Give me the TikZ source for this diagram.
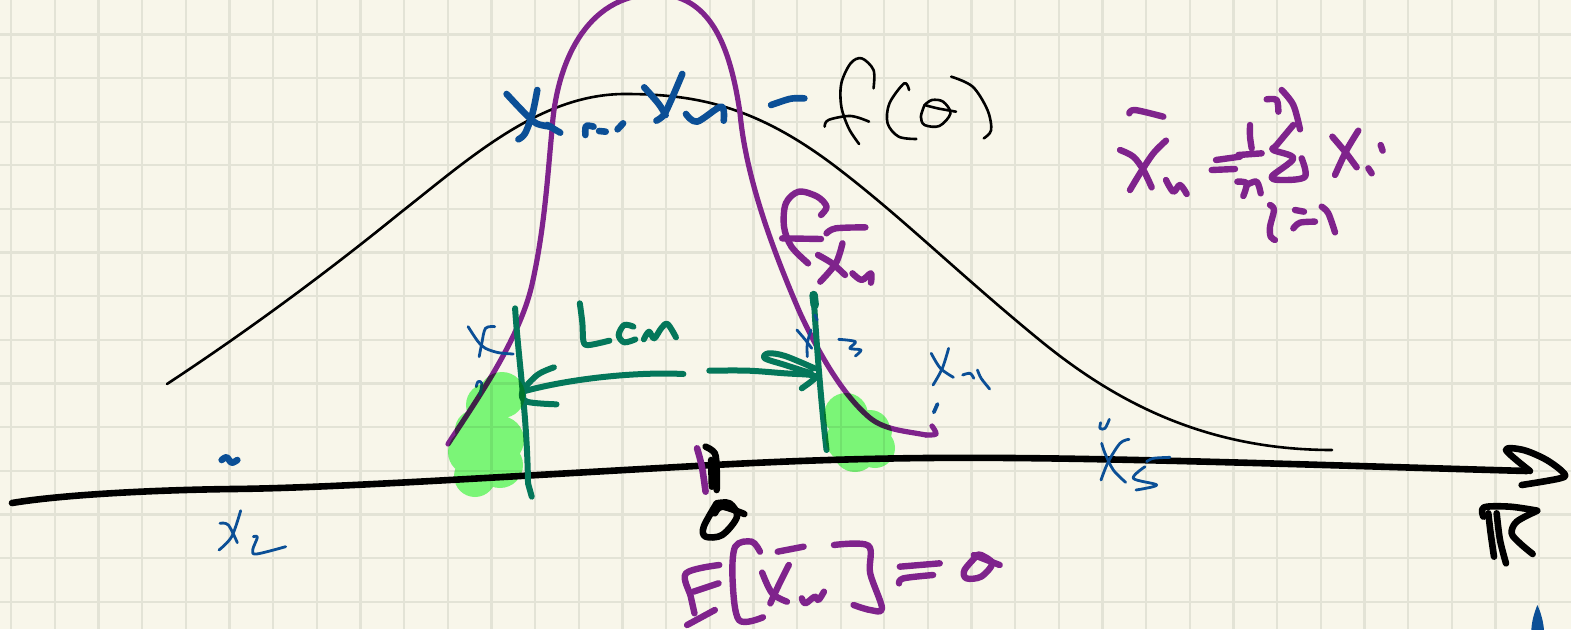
\documentclass[tikz,border=0pt]{standalone}
\definecolor{paper}{HTML}{F8F6EA}
\definecolor{gridc}{HTML}{E3E3D6}
\definecolor{pur}{HTML}{7F238C}
\definecolor{blu}{HTML}{0B4F96}
\definecolor{grn}{HTML}{04775A}
\definecolor{hil}{HTML}{7FFE82}
\tikzset{
  pen/.style={line cap=round,line join=round},
  bigpur/.style={pen,draw=pur,line width=6.4pt},
  bell/.style={pen,draw=pur,line width=5.2pt},
  thickblu/.style={pen,draw=blu,line width=6.6pt},
  thinblu/.style={pen,draw=blu,line width=2.8pt},
  grnpen/.style={pen,draw=grn,line width=6pt},
  blkthin/.style={pen,draw=black,line width=2.6pt},
  blkthick/.style={pen,draw=black,line width=6.6pt},
  zoomA/.style={x=0.3699pt,y=-0.33333pt},
  zoomB/.style={x=0.33333pt,y=-0.33333pt},
}
\newcommand{\Pen}[2]{\draw[#1] plot[smooth,tension=0.55] coordinates {#2};}
\begin{document}
\begin{tikzpicture}[x=1pt,y=-1pt]
\useasboundingbox (0,0) rectangle (1571,629);
\fill[paper] (0,0) rectangle (1571,629);
\clip (0,0) rectangle (1571,629);
\foreach \i in {0,...,35}{
  \draw[gridc,line width=2.3pt] ({11.3+43.65*\i},0) -- ({11.3+43.65*\i},629);
}
\foreach \i in {0,...,14}{
  \draw[gridc,line width=2.3pt] (0,{-9.3+43.65*\i}) -- (1571,{-9.3+43.65*\i});
}
% bell curve f(theta)
\draw[blkthin] (167,384) .. controls (240,336) and (320,278) .. (400,213)
  .. controls (470,158) and (540,94) .. (625,94)
  .. controls (700,94) and (760,108) .. (840,170)
  .. controls (905,220) and (960,275) .. (1042,342)
  .. controls (1110,397) and (1200,450) .. (1332,450);
% narrow density
\draw[bell] (448,444) .. controls (480,395) and (522,335) .. (533,280)
  .. controls (545,225) and (548,170) .. (552,130)
  .. controls (556,65) and (585,-5) .. (655,-6)
  .. controls (710,-6) and (730,45) .. (740,113)
  .. controls (746,180) and (775,255) .. (800,313)
  .. controls (822,360) and (845,397) .. (870,418)
  .. controls (885,430) and (905,431) .. (926,435);
\Pen{bell}{(926,435)(936,434)(932,426)}
% axis
\draw[blkthick] (12,503) .. controls (60,495) and (150,490) .. (233,489)
  .. controls (330,488) and (480,478) .. (696,466)
  .. controls (800,460) and (900,457) .. (1010,458)
  .. controls (1150,459) and (1350,466) .. (1527,471);
\begin{scope}[shift={(1080,400)},zoomB]
\Pen{blkthick}{(1325,255)(1440,235)(1452,220)(1400,180)(1330,150)(1278,150)(1350,213)}
\Pen{blkthick}{(1210,350)(1212,322)(1290,320)(1372,332)}
\Pen{blkthick}{(1225,340)(1232,400)(1242,470)}
\Pen{blkthick}{(1250,340)(1260,420)(1278,490)}
\Pen{blkthick}{(1370,333)(1310,365)(1295,400)(1320,430)(1358,462)}
\Pen{thinblu}{(62,68)(60,85)(75,85)(88,58)}
\Pen{thinblu}{(65,130)(75,160)(100,210)(137,247)}
\Pen{thinblu}{(147,118)(120,130)(85,185)(63,240)}
\Pen{thinblu}{(270,172)(220,175)(200,185)}
\Pen{thinblu}{(195,200)(160,235)(230,255)(168,270)}
\fill[blu] (1372,615) .. controls (1362,640) and (1355,665) .. (1354,690) -- (1392,690) .. controls (1390,665) and (1382,635) .. (1372,615) -- cycle;
\end{scope}
% lower centre
\begin{scope}[shift={(430,280)},zoomA]
\draw[grnpen] (230,85) .. controls (240,250) and (262,400) .. (265,610) -- (275,650);
\draw[grnpen] (1037,45) .. controls (1045,200) and (1060,400) .. (1072,510);
\Pen{grnpen,line width=8.5pt}{(1037,45)(1040,75)}
\draw[grnpen] (685,282) .. controls (560,275) and (380,295) .. (250,335);
\Pen{grnpen}{(335,262)(290,285)(250,335)(262,365)(342,373)}
\Pen{grnpen}{(755,272)(860,272)(960,280)(1030,285)(1040,295)(1005,325)}
\Pen{grnpen}{(1030,280)(960,255)(905,235)(915,220)(960,228)(1040,265)}
\Pen{grnpen}{(405,70)(412,130)(415,185)(430,195)(485,182)}
\Pen{grnpen}{(550,140)(525,135)(510,165)(525,187)(555,178)}
\Pen{grnpen}{(578,178)(592,155)(606,175)(625,145)(642,132)(665,172)}
\Pen{thinblu}{(103,140)(130,185)(150,205)(185,218)(225,222)}
\Pen{thinblu}{(175,140)(150,145)(140,190)(133,230)}
\Pen{thinblu}{(125,320)(130,305)(140,310)(135,345)}
\Pen{thinblu}{(992,150)(1015,180)(1032,205)}
\Pen{thinblu}{(1030,150)(1020,190)(1020,230)}
\Pen{thinblu}{(1040,105)(1047,120)}
\Pen{thinblu}{(1105,178)(1150,185)(1135,205)(1165,210)(1150,228)}
\Pen{thinblu}{(1355,220)(1380,265)(1415,292)}
\Pen{thinblu}{(1402,205)(1385,265)(1360,315)}
\Pen{thinblu}{(1440,285)(1460,280)(1470,295)}
\Pen{thinblu}{(1480,270)(1490,295)(1513,327)}
\Pen{thinblu,line width=3.8pt}{(1372,372)(1362,397)}
% E[X_n]=theta
\Pen{bigpur}{(782,855)(692,880)(705,950)(715,1000)}
\Pen{bigpur}{(695,1035)(770,990)}
\Pen{bigpur}{(712,935)(780,910)}
\Pen{bigpur}{(892,815)(870,785)(825,800)(818,900)(835,1020)(900,1012)}
\Pen{bigpur}{(940,815)(1010,800)}
\Pen{bigpur}{(898,878)(925,940)(965,965)}
\Pen{bigpur}{(970,855)(945,910)(920,970)}
\Pen{bigpur}{(1005,955)(1015,970)(1040,950)(1050,960)(1065,935)}
\Pen{bigpur}{(1092,795)(1185,797)(1190,880)(1222,985)(1190,990)(1145,975)}
\Pen{bigpur}{(1270,860)(1378,850)}
\Pen{bigpur}{(1268,910)(1280,895)(1360,885)}
\Pen{bigpur}{(1480,825)(1445,870)(1450,895)(1490,890)(1520,850)(1490,825)(1480,825)}
\Pen{bigpur}{(1470,825)(1540,855)}
% tick and theta
\Pen{blkthick}{(745,500)(770,520)(775,570)(775,630)}
\Pen{blkthick}{(760,540)(762,620)}
\Pen{bigpur,line width=6.6pt}{(722,505)(735,560)(745,635)}
\Pen{blkthick}{(775,670)(740,740)(745,770)(790,765)(830,710)(810,670)(775,670)}
\Pen{blkthick}{(770,700)(790,680)(850,702)}
\end{scope}
% highlighter
\fill[hil,blend mode=multiply]
  (471,452) circle (23pt) (475,476) circle (21pt) (500,465) circle (23pt)
  (500,440) circle (24pt) (475,430) circle (20pt) (488,405) circle (22pt)
  (502,395) circle (23pt)
  (846,415) circle (22pt) (848,440) circle (22pt) (855,450) circle (22pt)
  (870,430) circle (20pt) (875,448) circle (20pt) (880,432) circle (12pt);
% upper centre
\begin{scope}[shift={(440,0)},zoomA]
\Pen{thickblu}{(180,282)(225,335)(260,370)(300,380)}
\Pen{thickblu}{(263,270)(250,340)(230,400)(212,418)}
\Pen{thickblu}{(290,375)(325,398)}
\Pen{thickblu}{(393,405)(395,378)(415,380)}
\Pen{thickblu}{(430,393)(448,395)}
\Pen{thickblu}{(480,388)(495,370)}
\Pen{thickblu}{(552,262)(590,310)(610,345)}
\Pen{thickblu}{(655,222)(625,300)(605,345)(585,362)}
\Pen{thickblu}{(665,342)(695,365)(760,320)(767,362)}
\Pen{thickblu}{(895,315)(935,300)(955,295)(985,295)}
\Pen{blkthin}{(1172,265)(1172,210)(1140,175)(1110,190)(1085,250)(1085,320)(1105,385)(1133,432)}
\Pen{blkthin}{(1040,380)(1050,360)(1110,348)(1160,365)}
\Pen{blkthin}{(1268,270)(1255,250)(1215,310)(1210,370)(1240,410)(1288,417)}
\Pen{blkthin}{(1310,315)(1300,350)(1310,375)(1350,378)(1380,340)(1360,305)(1330,300)(1310,315)}
\Pen{blkthin}{(1310,315)(1345,325)(1395,335)}
\Pen{blkthin}{(1382,230)(1440,260)(1480,330)(1490,390)(1470,415)}
\Pen{bigpur}{(1030,645)(1045,620)(1020,590)(970,575)(935,610)(930,680)(950,740)(995,790)}
\Pen{bigpur}{(925,715)(1030,717)}
\Pen{bigpur}{(1045,700)(1070,685)(1150,682)}
\Pen{bigpur}{(1022,765)(1060,790)(1095,825)}
\Pen{bigpur}{(1088,730)(1070,790)(1028,845)}
\Pen{bigpur}{(1115,820)(1140,840)(1165,820)(1165,848)}
\end{scope}
% formula top right
\begin{scope}[shift={(1080,70)},zoomB]
\Pen{bigpur}{(148,130)(165,120)(250,140)}
\Pen{bigpur}{(120,240)(160,260)(190,300)(215,352)}
\Pen{bigpur}{(258,212)(220,250)(180,310)(150,360)}
\Pen{bigpur}{(258,330)(280,365)(300,345)(320,372)}
\Pen{bigpur}{(408,270)(480,260)}
\Pen{bigpur}{(395,300)(465,297)}
\Pen{bigpur}{(510,165)(510,200)(515,235)}
\Pen{bigpur}{(475,255)(545,250)}
\Pen{bigpur}{(472,335)(500,340)(490,378)}
\Pen{bigpur}{(500,345)(530,335)(542,370)}
\Pen{bigpur}{(640,165)(590,225)(580,240)(640,265)(575,320)(610,330)(675,320)(665,265)}
\Pen{bigpur}{(560,88)(590,90)(595,125)}
\Pen{bigpur}{(605,60)(640,105)(660,178)}
\Pen{bigpur}{(757,200)(795,245)(830,292)}
\Pen{bigpur}{(835,182)(800,240)(765,315)}
\Pen{bigpur}{(902,225)(908,242)}
\Pen{bigpur}{(865,295)(875,310)}
\Pen{bigpur}{(570,405)(582,420)(570,470)(572,500)(585,510)}
\Pen{bigpur}{(645,420)(672,425)}
\Pen{bigpur}{(640,475)(660,458)(705,455)}
\Pen{bigpur}{(725,410)(745,430)(765,487)}
\end{scope}
% bottom left
\begin{scope}[shift={(0,400)},zoomB]
\Pen{thickblu}{(665,180)(680,172)(695,188)(712,180)}
\Pen{thinblu}{(660,370)(685,375)(712,428)}
\Pen{thinblu}{(722,332)(695,410)(657,450)}
\Pen{thinblu}{(760,410)(772,412)(758,450)(770,462)(857,440)}
\end{scope}
\end{tikzpicture}
\end{document}
